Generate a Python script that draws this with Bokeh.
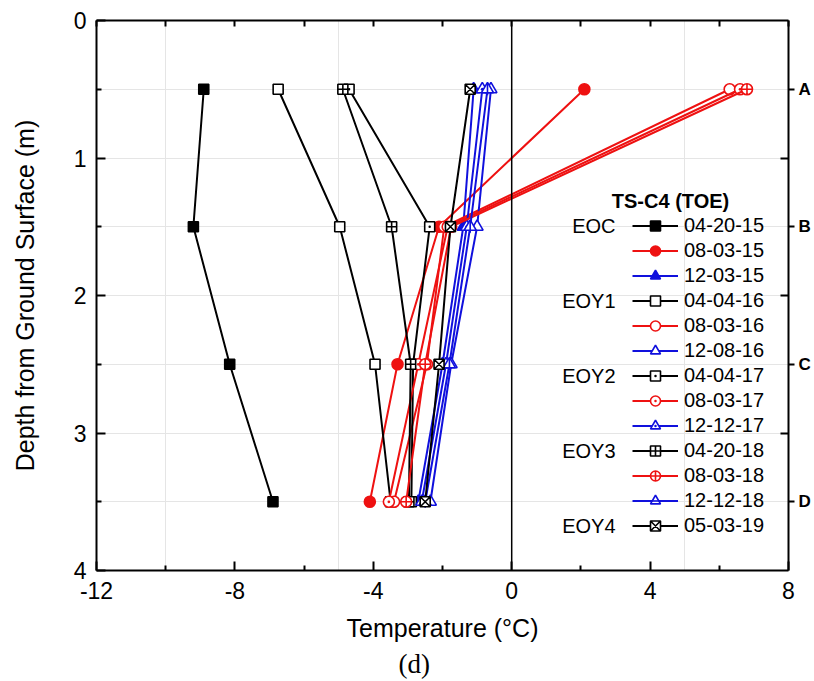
from bokeh.plotting import figure
from bokeh.models import (Range1d, LinearAxis, FixedTicker, Span, Legend,
                          LegendItem, Label, Title)
from bokeh.embed import file_html
from bokeh.resources import INLINE

# ---------------- data ----------------
depth = [0.5, 1.5, 2.5, 3.5]

t_04_20_15 = [-8.9, -9.2, -8.15, -6.9]
t_08_03_15 = [2.1, -2.1, -3.3, -4.1]
t_12_03_15 = [-1.1, -1.4, -2.0, -2.7]
t_04_04_16 = [-6.75, -4.97, -3.95, -3.5]
t_08_03_16 = [6.3, -1.95, -2.45, -3.4]
t_12_08_16 = [-0.6, -1.0, -1.75, -2.35]
t_04_04_17 = [-4.7, -2.37, -2.85, -2.9]
t_08_03_17 = [6.6, -1.85, -2.7, -3.55]
t_12_12_17 = [-0.85, -1.3, -1.9, -2.6]
t_04_20_18 = [-4.88, -3.47, -2.92, -2.97]
t_08_03_18 = [6.8, -1.75, -2.5, -3.05]
t_12_12_18 = [-0.7, -1.2, -1.8, -2.5]
t_05_03_19 = [-1.2, -1.77, -2.1, -2.5]

dates = ["04-20-15", "08-03-15", "12-03-15", "04-04-16", "08-03-16", "12-08-16",
         "04-04-17", "08-03-17", "12-12-17", "04-20-18", "08-03-18", "12-12-18",
         "05-03-19"]
values = [t_04_20_15, t_08_03_15, t_12_03_15, t_04_04_16, t_08_03_16, t_12_08_16,
          t_04_04_17, t_08_03_17, t_12_12_17, t_04_20_18, t_08_03_18, t_12_12_18,
          t_05_03_19]

group_labels = ["EOC", "EOY1", "EOY2", "EOY3", "EOY4"]
group_rows = [0, 3, 6, 9, 12]

x_ticks = [-12, -8, -4, 0, 4, 8]
x_tick_labels = ["-12", "-8", "-4", "0", "4", "8"]
x_minor = [-10, -6, -2, 2, 6]
y_ticks = [0, 1, 2, 3, 4]
y_minor = [0.5, 1.5, 2.5, 3.5]
sensor_depths = [0.5, 1.5, 2.5, 3.5]
sensor_labels = ["A", "B", "C", "D"]

# ---------------- styles ----------------
BLACK = "#000000"
RED = "#ee1111"
BLUE = "#1010dd"
FONT = "Liberation Sans"

styles = [
    (BLACK, "square", BLACK, 10),
    (RED, "circle", RED, 11),
    (BLUE, "triangle", BLUE, 12),
    (BLACK, "square", "white", 10),
    (RED, "circle", "white", 11),
    (BLUE, "triangle", "white", 12),
    (BLACK, "square_dot", "white", 10),
    (RED, "circle_dot", "white", 11),
    (BLUE, "triangle_dot", "white", 12),
    (BLACK, "square_cross", "white", 10),
    (RED, "circle_cross", "white", 11),
    (BLUE, "triangle", "white", 12),
    (BLACK, "square_x", "white", 10),
]

p = figure(width=814, height=681,
           x_range=Range1d(-12, 8), y_range=Range1d(4, 0),
           output_backend="svg", toolbar_location=None,
           x_axis_location=None, y_axis_location=None,
           min_border_left=96, min_border_right=26,
           min_border_top=20, min_border_bottom=111)
p.background_fill_color = "white"
p.border_fill_color = "white"
p.outline_line_color = None


def base_axis(ax):
    ax.axis_line_width = 2
    ax.axis_line_color = "black"
    ax.major_tick_line_width = 2
    ax.minor_tick_line_width = 2
    ax.major_tick_line_color = "black"
    ax.minor_tick_line_color = "black"
    ax.major_tick_in = 9
    ax.major_tick_out = 0
    ax.minor_tick_in = 5
    ax.minor_tick_out = 0
    ax.major_label_text_font = FONT
    ax.major_label_text_font_size = "23px"
    ax.major_label_text_color = "black"
    ax.axis_label_text_font = FONT
    ax.axis_label_text_font_style = "normal"
    ax.axis_label_text_color = "black"


# bottom axis
xb = LinearAxis(ticker=FixedTicker(ticks=x_ticks, minor_ticks=x_minor))
base_axis(xb)
xb.major_label_overrides = {t: l for t, l in zip(x_ticks, x_tick_labels)}
xb.major_label_standoff = 11
xb.axis_label = "Temperature (°C)"
xb.axis_label_text_font_size = "25px"
xb.axis_label_standoff = 12
p.add_layout(xb, "below")

# top axis: ticks only (all as minor ticks, so no labels)
xt = LinearAxis(ticker=FixedTicker(ticks=[], minor_ticks=x_ticks + x_minor))
base_axis(xt)
xt.minor_tick_in = 6
xt.major_label_standoff = 0
p.add_layout(xt, "above")

# left axis
yl = LinearAxis(ticker=FixedTicker(ticks=y_ticks, minor_ticks=y_minor))
base_axis(yl)
yl.major_label_standoff = 10
yl.axis_label = "Depth from Ground Surface (m)"
yl.axis_label_text_font_size = "25px"
yl.axis_label_standoff = 32
p.add_layout(yl, "left")

# right axis with sensor labels
yr = LinearAxis(ticker=FixedTicker(ticks=sensor_depths, minor_ticks=[1, 2, 3]))
base_axis(yr)
yr.major_tick_in = 0
yr.major_tick_out = 6
yr.minor_tick_in = 8
yr.minor_tick_out = 0
yr.major_label_overrides = {d: l for d, l in zip(sensor_depths, sensor_labels)}
yr.major_label_text_font_style = "bold"
yr.major_label_text_font_size = "17px"
yr.major_label_standoff = 4
p.add_layout(yr, "right")

# caption below the axis
p.add_layout(Title(text="(d)", align="left", offset=302,
                   text_font="Liberation Serif", text_font_size="27px",
                   text_font_style="normal", text_color="black", standoff=4),
             "below")

p.add_layout(Span(location=0, dimension="height", line_color="black", line_width=1.5))

items = []
for i, (label, vals) in enumerate(zip(dates, values)):
    color, marker, fill, size = styles[i]
    rl = p.line(vals, depth, line_color=color, line_width=2)
    rs = p.scatter(vals, depth, marker=marker, size=size, line_color=color,
                   fill_color=fill, line_width=1.6)
    rends = [rl, rs]
    if label == "12-12-18":
        rd = p.scatter(vals, depth, marker="dash", angle=1.5708, size=size,
                       line_color=color, line_width=1.6)
        rends.append(rd)
    items.append(LegendItem(label=label, renderers=rends))

ROW = 25
LEG_X = 536
LEG_Y = 32
legend = Legend(items=items, location=(LEG_X, LEG_Y), orientation="vertical",
                glyph_width=46, glyph_height=ROW, label_height=ROW, spacing=0,
                padding=0, margin=0, label_standoff=6,
                label_text_font=FONT, label_text_font_size="20px",
                label_text_color="black",
                border_line_color=None, background_fill_alpha=0)
p.add_layout(legend)

leg_top = LEG_Y + ROW * len(dates)
for g, r in zip(group_labels, group_rows):
    p.add_layout(Label(x=LEG_X - 17, y=leg_top - ROW / 2 - ROW * r,
                       x_units="screen", y_units="screen", text=g,
                       text_align="right", text_baseline="middle",
                       text_font=FONT, text_font_size="20px", text_color="black"))

p.add_layout(Label(x=574, y=leg_top + 13, x_units="screen", y_units="screen",
                   text="TS-C4 (TOE)", text_align="center", text_baseline="middle",
                   text_font=FONT, text_font_size="20px", text_font_style="bold",
                   text_color="black"))

open("out.html", "w").write(file_html(p, INLINE))
